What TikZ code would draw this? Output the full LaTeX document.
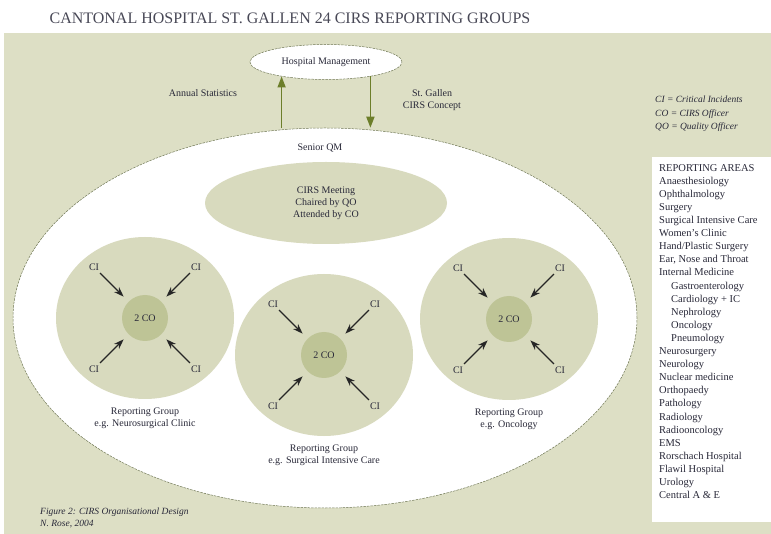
\documentclass[tikz,border=0pt]{standalone}
\usepackage{fontspec}
\setmainfont{Liberation Serif}
\usepackage{tikz}
\usetikzlibrary{calc,shapes.geometric,positioning,arrows.meta}

\definecolor{panelbg}{RGB}{221,223,197}
\definecolor{groupbg}{RGB}{216,218,190}
\definecolor{cobg}{RGB}{190,196,150}
\definecolor{flowgreen}{RGB}{108,126,42}
\definecolor{rimolive}{RGB}{112,120,84}
\definecolor{ink}{RGB}{40,40,56}

\begin{document}
\begin{tikzpicture}[
      x=1pt, y=-1pt,
      txt/.style={text=ink, font=\fontsize{10}{12}\selectfont, align=center, inner sep=1pt},
      title/.style={text=ink!85, font=\fontsize{16}{18}\selectfont, inner sep=0pt},
      senior/.style={ellipse, fill=white, draw=rimolive, line width=0.5pt,
            dash pattern=on 2.5pt off 1pt, minimum width=624pt, minimum height=380pt},
      mgmt/.style={ellipse, fill=white, draw=rimolive, line width=0.5pt,
            dash pattern=on 2.5pt off 1pt, minimum width=152pt, minimum height=35pt, txt},
      meeting/.style={ellipse, fill=groupbg, minimum width=242pt, minimum height=82pt, txt},
      group/.style={ellipse, fill=groupbg, minimum width=178pt, minimum height=162pt},
      co/.style={circle, fill=cobg, minimum size=46pt, txt},
      ci/.style={txt, inner sep=2.5pt, on grid},
      hit/.style={draw=black!85, line width=1.3pt, shorten >=7pt,
            -{Stealth[length=10pt,width=7pt]}},
      flow/.style={draw=flowgreen, line width=1.6pt, -{Triangle[length=11pt,width=8pt]}},
      note/.style={text=ink, font=\fontsize{9.5}{13.5}\selectfont\itshape, align=left, inner sep=0pt},
      credit/.style={text=ink, font=\fontsize{9.5}{11.5}\selectfont\itshape, align=left, inner sep=0pt},
      areas/.style={text=ink, font=\fontsize{10.5}{13.1}\selectfont, align=left, inner sep=0pt}
      ]
    \useasboundingbox (0,0) rectangle (771,534);
    \fill[panelbg] (4,33) rectangle (771,534);
    \node[title] (T) at (290,18) {CANTONAL HOSPITAL ST.\ GALLEN 24 CIRS REPORTING GROUPS};

    \node[senior] (QM) at (325,318) {};
    \node[txt] (QMtext) at (320,148) {Senior QM};
    \node[mgmt] (HM) at (326,62) {Hospital Management};
    \draw[flow] (HM.198 |- QM.north) -- (HM.198);
    \draw[flow] (HM.-18) -- (HM.-18 |- QM.north);
    \node[txt] (stats) at (203,93) {Annual Statistics};
    \node[txt] (concept) at (432,100) {St.~Gallen\\CIRS Concept};

    \node[meeting] (CM) at (326,203) {CIRS Meeting\\Chaired by QO\\Attended by CO};

    % left group
    \node[group] (G1) at (145,318) {};
    \node[co] (C1) at (G1.center) {2 CO};
    \node[ci, above left=51pt and 51pt of C1] (C1a) {CI};
    \node[ci, above right=51pt and 51pt of C1] (C1b) {CI};
    \node[ci, below left=51pt and 51pt of C1] (C1c) {CI};
    \node[ci, below right=51pt and 51pt of C1] (C1d) {CI};
    \draw[hit] (C1a) -- (C1);
    \draw[hit] (C1b) -- (C1);
    \draw[hit] (C1c) -- (C1);
    \draw[hit] (C1d) -- (C1);
    \node[txt, below=7pt of G1] (cap1) {Reporting Group\\e.g. Neurosurgical Clinic};

    % middle group
    \node[group] (G2) at (324,355) {};
    \node[co] (C2) at (G2.center) {2 CO};
    \node[ci, above left=51pt and 51pt of C2] (C2a) {CI};
    \node[ci, above right=51pt and 51pt of C2] (C2b) {CI};
    \node[ci, below left=51pt and 51pt of C2] (C2c) {CI};
    \node[ci, below right=51pt and 51pt of C2] (C2d) {CI};
    \draw[hit] (C2a) -- (C2);
    \draw[hit] (C2b) -- (C2);
    \draw[hit] (C2c) -- (C2);
    \draw[hit] (C2d) -- (C2);
    \node[txt, below=7pt of G2] (cap2) {Reporting Group\\e.g. Surgical Intensive Care};

    % right group
    \node[group] (G3) at (509,319) {};
    \node[co] (C3) at (G3.center) {2 CO};
    \node[ci, above left=51pt and 51pt of C3] (C3a) {CI};
    \node[ci, above right=51pt and 51pt of C3] (C3b) {CI};
    \node[ci, below left=51pt and 51pt of C3] (C3c) {CI};
    \node[ci, below right=51pt and 51pt of C3] (C3d) {CI};
    \draw[hit] (C3a) -- (C3);
    \draw[hit] (C3b) -- (C3);
    \draw[hit] (C3c) -- (C3);
    \draw[hit] (C3d) -- (C3);
    \node[txt, below=7pt of G3] (cap3) {Reporting Group\\e.g. Oncology};

    % legend
    \node[note, anchor=north west] (abbr) at (655,96) {CI = Critical Incidents\\CO = CIRS Officer\\QO = Quality Officer};
    \fill[white] (652,157) rectangle (771,522);
    \node[areas, anchor=north west] (RA) at (659,164) {REPORTING AREAS\\Anaesthesiology\\Ophthalmology\\Surgery\\Surgical Intensive Care\\Women's Clinic\\Hand/Plastic Surgery\\Ear, Nose and Throat\\Internal Medicine\\\hspace*{12pt}Gastroenterology\\\hspace*{12pt}Cardiology + IC\\\hspace*{12pt}Nephrology\\\hspace*{12pt}Oncology\\\hspace*{12pt}Pneumology\\Neurosurgery\\Neurology\\Nuclear medicine\\Orthopaedy\\Pathology\\Radiology\\Radiooncology\\EMS\\Rorschach Hospital\\Flawil Hospital\\Urology\\Central A \& E};

    \node[credit, anchor=north west] (fig) at (40,508) {Figure 2: CIRS Organisational Design\\N. Rose, 2004};
  \end{tikzpicture}
\end{document}
